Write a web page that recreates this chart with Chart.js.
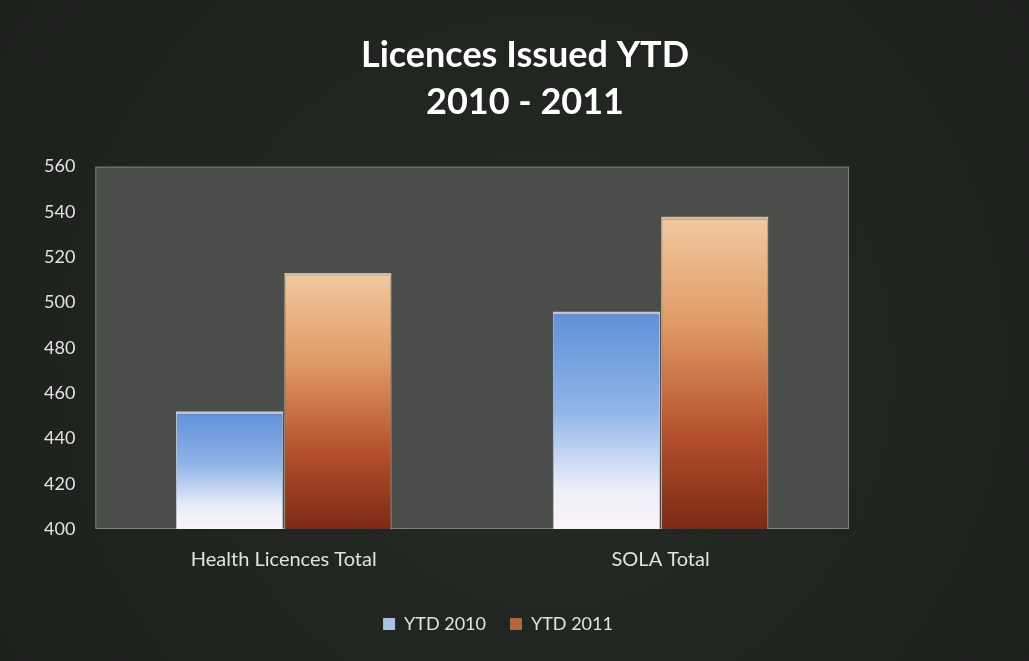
<!DOCTYPE html>
<html>
<head>
<meta charset="utf-8">
<script src="https://cdn.jsdelivr.net/npm/chart.js@4"></script>
<style>
  html, body { margin: 0; padding: 0; background: #1d201c; }
  #wrap { width: 1029px; height: 661px; }
</style>
</head>
<body>
<div id="wrap"><canvas id="chart"></canvas></div>
<script>
const categories = ['Health Licences Total', 'SOLA Total'];
const ytd2010 = [452, 496];
const ytd2011 = [513, 538];
const yTicks = [400, 420, 440, 460, 480, 500, 520, 540, 560];

// gradient per bar, from its top down to the axis base
function barGradient(stops) {
    return (context) => {
        const chart = context.chart;
        if (!chart.chartArea || context.parsed == null) return stops[0][1];
        const y = chart.scales.y;
        const top = y.getPixelForValue(context.parsed.y);
        const bottom = y.getPixelForValue(y.min);
        const g = chart.ctx.createLinearGradient(0, top, 0, bottom);
        stops.forEach(s => g.addColorStop(s[0], s[1]));
        return g;
    };
}

const blueStops = [[0, '#5f90da'], [0.45, '#8fb4e8'], [0.82, '#eceffa'], [1, '#fbf3f8']];
const orangeStops = [[0, '#f2c9a0'], [0.35, '#e09a64'], [0.7, '#b4502c'], [1, '#7c2a14']];

const backdrop = {
    id: 'backdrop',
    beforeDraw(chart) {
        const { ctx, width, height, chartArea } = chart;
        ctx.save();
        const bg = ctx.createRadialGradient(width * 0.55, height * 0.6, 50, width * 0.5, height * 0.5, width * 0.7);
        bg.addColorStop(0, '#262a25');
        bg.addColorStop(1, '#1b1e1a');
        ctx.fillStyle = bg;
        ctx.fillRect(0, 0, width, height);
        ctx.fillStyle = '#4a4d49';
        ctx.fillRect(chartArea.left, chartArea.top, chartArea.right - chartArea.left, chartArea.bottom - chartArea.top);
        ctx.strokeStyle = 'rgba(190,196,188,0.45)';
        ctx.lineWidth = 1;
        ctx.strokeRect(chartArea.left + 0.5, chartArea.top + 0.5, chartArea.right - chartArea.left - 1, chartArea.bottom - chartArea.top - 1);
        ctx.restore();
    }
};

// legend sits a little left of centre in the original
const legendShift = {
    id: 'legendShift',
    afterLayout(chart) {
        chart.legend.left -= 27;
        chart.legend.right -= 27;
    }
};

new Chart(document.getElementById('chart'), {
    type: 'bar',
    data: {
        labels: categories,
        datasets: [
            {
                label: 'YTD 2010',
                data: ytd2010,
                backgroundColor: barGradient(blueStops),
                borderColor: 'rgba(232,240,255,0.75)',
                borderWidth: { top: 3, left: 1, right: 1, bottom: 0 },
                borderSkipped: false
            },
            {
                label: 'YTD 2011',
                data: ytd2011,
                backgroundColor: barGradient(orangeStops),
                borderColor: 'rgba(255,236,215,0.7)',
                borderWidth: { top: 3, left: 1, right: 1, bottom: 0 },
                borderSkipped: false
            }
        ]
    },
    options: {
        responsive: true,
        maintainAspectRatio: false,
        animation: false,
        layout: { padding: { top: 32, left: 24, right: 3, bottom: 18 } },
        datasets: {
            bar: { categoryPercentage: 0.575, barPercentage: 0.99 }
        },
        scales: {
            x: {
                grid: { display: false, drawTicks: false },
                border: { display: false },
                ticks: { color: '#e2e2e2', font: { family: 'Lato', size: 20 }, padding: 19 }
            },
            y: {
                min: 400,
                max: 560,
                afterBuildTicks: (axis) => { axis.ticks = yTicks.map(v => ({ value: v })); },
                grid: { display: false, drawTicks: false },
                border: { display: false },
                ticks: { color: '#e2e2e2', font: { family: 'Lato', size: 18 }, padding: 20 }
            },
            yRight: {
                position: 'right',
                min: 400,
                max: 560,
                grid: { display: false, drawTicks: false },
                border: { display: false },
                ticks: { display: false },
                afterFit: (axis) => { axis.width = 177; }
            }
        },
        plugins: {
            title: {
                display: true,
                text: ['Licences Issued YTD', '2010 - 2011'],
                color: '#ffffff',
                font: { family: 'Lato', size: 36, weight: 'bold', lineHeight: 1.3 },
                padding: { top: 0, bottom: 41 }
            },
            legend: {
                position: 'bottom',
                labels: {
                    color: '#e2e2e2',
                    font: { family: 'Lato', size: 18 },
                    boxWidth: 12,
                    boxHeight: 12,
                    padding: 24,
                    generateLabels: (chart) => [
                        { text: 'YTD 2010', fillStyle: '#a9c2e6', strokeStyle: '#a9c2e6', lineWidth: 0, fontColor: '#e2e2e2', datasetIndex: 0 },
                        { text: 'YTD 2011', fillStyle: '#b4653f', strokeStyle: '#b4653f', lineWidth: 0, fontColor: '#e2e2e2', datasetIndex: 1 }
                    ]
                }
            },
            tooltip: { enabled: false }
        }
    },
    plugins: [backdrop, legendShift]
});
</script>
</body>
</html>
